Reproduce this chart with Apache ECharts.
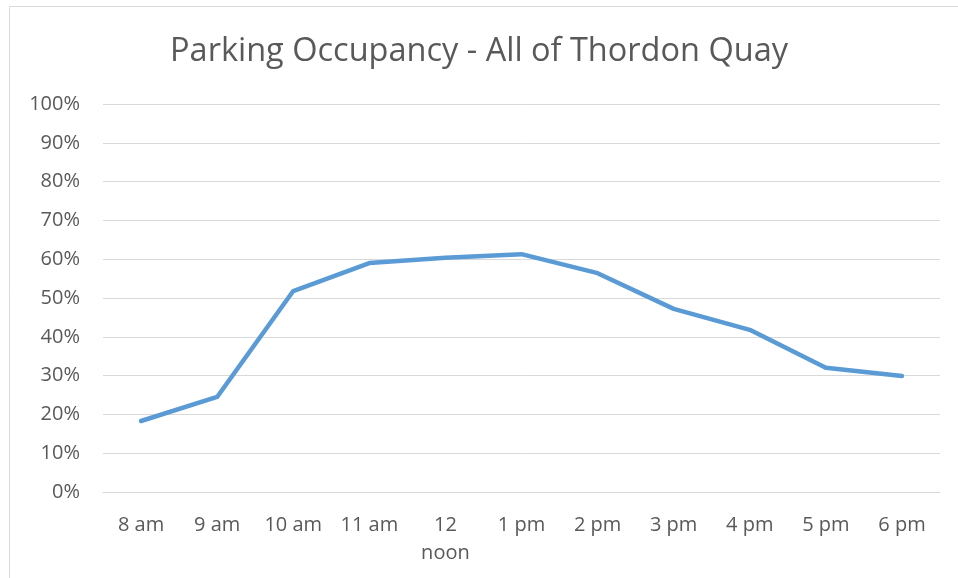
<!DOCTYPE html>
<html>
<head>
<meta charset="utf-8">
<script src="https://cdn.jsdelivr.net/npm/echarts@6/dist/echarts.min.js"></script>
<style>
  html, body { margin: 0; padding: 0; background: #fff; }
  #chart { width: 958px; height: 578px; }
</style>
</head>
<body>
<div id="chart"></div>
<script>
const categories = ['8 am', '9 am', '10 am', '11 am', '12\nnoon', '1 pm', '2 pm', '3 pm', '4 pm', '5 pm', '6 pm']
const occupancy = [18.3, 24.5, 51.8, 59.0, 60.4, 61.3, 56.4, 47.2, 41.8, 32.0, 29.9]
const yMin = 0
const yMax = 100
const yStep = 10

const textColor = '#595959'
const fontFamily = 'Open Sans, Noto Sans, sans-serif'

const chart = echarts.init(document.getElementById('chart'))
const option = {
  animation: false,
  title: {
    text: 'Parking Occupancy - All of Thordon Quay',
    left: 'center',
    top: 30,
    textStyle: {
      color: textColor,
      fontSize: 32.5,
      fontWeight: 'normal',
      fontFamily: fontFamily
    }
  },
  graphic: [{
    type: 'rect',
    shape: { x: 9.5, y: 6.5, width: 1000, height: 1000 },
    style: { fill: 'none', stroke: '#d9d9d9', lineWidth: 1 },
    silent: true
  }],
  grid: {
    left: 103,
    right: 18,
    top: 104,
    bottom: 86
  },
  xAxis: {
    type: 'category',
    data: categories,
    boundaryGap: true,
    axisLine: { lineStyle: { color: '#d9d9d9' } },
    axisTick: { show: false },
    axisLabel: {
      color: textColor,
      fontSize: 20,
      fontFamily: fontFamily,
      margin: 19,
      lineHeight: 28,
      interval: 0
    }
  },
  yAxis: {
    type: 'value',
    min: yMin,
    max: yMax,
    interval: yStep,
    axisLabel: {
      formatter: '{value}%',
      color: textColor,
      fontSize: 20,
      fontFamily: fontFamily,
      margin: 23
    },
    axisLine: { show: false },
    axisTick: { show: false },
    splitLine: { lineStyle: { color: '#d9d9d9', width: 1 } }
  },
  series: [{
    type: 'line',
    data: occupancy,
    symbol: 'none',
    lineStyle: { color: '#5b9bd5', width: 4.5, cap: 'round', join: 'round' }
  }]
}
chart.setOption(option)
</script>
</body>
</html>
